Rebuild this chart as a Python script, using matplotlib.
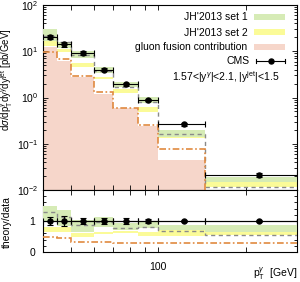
import numpy as np
import matplotlib
matplotlib.use("Agg")
import matplotlib.pyplot as plt
from matplotlib.patches import Patch
from matplotlib.lines import Line2D
from matplotlib.ticker import FixedLocator, NullFormatter, LogLocator, MultipleLocator

plt.rcParams['font.family'] = ['Liberation Sans', 'DejaVu Sans']
plt.rcParams['mathtext.fontset'] = 'custom'
plt.rcParams['mathtext.rm'] = 'Liberation Sans'
plt.rcParams['mathtext.it'] = 'Liberation Sans:italic'
plt.rcParams['mathtext.bf'] = 'Liberation Sans:bold'

# ---- data ----
edges = [40, 45, 50, 60, 70, 85, 100, 145, 300]
cms = [20.6, 14.1, 9.3, 4.0, 1.93, 0.88, 0.267, 0.0214]
cms_err = [2.0, 1.5, 0.8, 0.35, 0.15, 0.06, 0.02, 0.002]

set1_lo = [16.9, 11.6, 7.0, 3.34, 1.71, 0.76, 0.142, 0.0151]
set1_hi = [29.8, 16.1, 10.3, 4.63, 2.2, 1.04, 0.198, 0.0194]
set2_lo = [13.0, 9.8, 4.5, 2.48, 1.27, 0.474, 0.131, 0.0118]
set2_hi = [16.9, 11.0, 5.5, 2.82, 1.5, 0.61, 0.19, 0.0165]
dashed = [21.7, 16.0, 8.3, 3.7, 1.65, 0.80, 0.163, 0.0118]
gluon_line = [9.8, 6.7, 2.92, 1.29, 0.60, 0.254, 0.0769, 0.006]
gluon_fill = [12.6, 6.3, 2.8, 1.2, 0.58, 0.245, 0.0446, 0.004]

r_set1_lo = [0.98, 0.85, 0.66, 0.82, 0.71, 0.785, 0.71, 0.65]
r_set1_hi = [1.49, 1.355, 1.03, 1.14, 0.925, 1.0, 0.87, 0.87]
r_set2_lo = [0.656, 0.66, 0.495, 0.58, 0.60, 0.527, 0.53, 0.55]
r_set2_hi = [0.82, 0.82, 0.60, 0.656, 0.68, 0.656, 0.71, 0.70]
r_dashed = [1.30, 1.14, 0.87, 0.98, 0.76, 0.82, 0.69, 0.55]
r_gluon = [0.495, 0.46, 0.31, 0.31, 0.30, 0.28, 0.28, 0.28]
r_data = [1, 1, 1, 1, 1, 1, 1, 1]
r_err = [0.13, 0.16, 0.10, 0.10, 0.10, 0.06, 0.04, 0.03]

legend_labels = ["JH'2013 set 1", "JH'2013 set 2", 'gluon fusion contribution', 'CMS']

c_green = '#d6ebb6'
c_yellow = '#fbfb98'
c_pink = '#f6d6ca'
c_orange = '#e08a40'
c_grey = '#8a8a8a'

W, H = 300, 282
fig = plt.figure(figsize=(W/100, H/100), dpi=100)
x0, x1 = 42.5, 297
ytop = 5
def fy(p):
    return 1 - p/H
ax = fig.add_axes([x0/W, fy(190), (x1-x0)/W, (190-ytop)/H])
axr = fig.add_axes([x0/W, fy(252), (x1-x0)/W, (252-190)/H])

def axx(px):
    return (px - x0)/(x1 - x0)
def axy(py):
    return (190 - py)/(190 - ytop)

edges_a = np.array(edges, float)
centers = 0.5*(edges_a[:-1]+edges_a[1:])
xerr = [centers-edges_a[:-1], edges_a[1:]-centers]

dash_style = (0, (3, 2.5))
dashdot_style = (0, (4, 1.5, 1, 1.5))

# main panel
ax.stairs(gluon_fill, edges, baseline=1e-5, fill=True, color=c_pink, lw=0, zorder=1)
ax.stairs(set2_hi, edges, baseline=set2_lo, fill=True, color=c_yellow, lw=0, zorder=2)
ax.stairs(set1_hi, edges, baseline=set1_lo, fill=True, color=c_green, lw=0, zorder=3)
ax.stairs(dashed, edges, baseline=None, color=c_grey, lw=1.0, ls=dash_style, zorder=4)
ax.stairs(gluon_line, edges, baseline=None, color=c_orange, lw=1.2, ls=dashdot_style, zorder=4)
ax.errorbar(centers, cms, xerr=xerr, yerr=cms_err, fmt='o', color='black',
            ms=3.6, lw=0.8, capsize=2, capthick=0.8, zorder=6)

ax.set_xscale('log')
ax.set_yscale('log')
ax.set_xlim(40, 300)
ax.set_ylim(1e-2, 1e2)

# ratio panel
axr.stairs(r_set2_hi, edges, baseline=r_set2_lo, fill=True, color=c_yellow, lw=0, zorder=2)
axr.stairs(r_set1_hi, edges, baseline=r_set1_lo, fill=True, color=c_green, lw=0, zorder=3)
axr.stairs(r_dashed, edges, baseline=None, color=c_grey, lw=1.0, ls=dash_style, zorder=4)
axr.stairs(r_gluon, edges, baseline=None, color=c_orange, lw=1.2, ls=dashdot_style, zorder=4)
axr.axhline(1, color='black', lw=0.8, zorder=5)
axr.errorbar(centers, r_data, xerr=xerr, yerr=r_err, fmt='o', color='black',
             ms=3.6, lw=0.8, capsize=2, capthick=0.8, zorder=6)
axr.set_xscale('log')
axr.set_xlim(40, 300)
axr.set_ylim(0, 2)

for a in (ax, axr):
    for s in a.spines.values():
        s.set_linewidth(0.8)
    a.tick_params(which='both', direction='in', top=True, right=True, width=0.6, labelsize=7.5)
    a.tick_params(which='major', length=3.8)
    a.tick_params(which='minor', length=2.0)
    a.tick_params(axis='x', which='minor', length=3.8)
    a.xaxis.set_major_locator(FixedLocator([100]))
    a.xaxis.set_minor_locator(FixedLocator([40, 50, 60, 70, 80, 90, 200, 300]))
    a.xaxis.set_minor_formatter(NullFormatter())

ax.xaxis.set_major_formatter(NullFormatter())
ax.yaxis.set_major_locator(LogLocator(base=10, numticks=10))
ax.yaxis.set_minor_locator(LogLocator(base=10, subs=np.arange(2, 10), numticks=10))
ax.yaxis.set_minor_formatter(NullFormatter())
ax.tick_params(axis='y', pad=3)

axr.yaxis.set_major_locator(FixedLocator([0, 1, 2]))
axr.set_yticklabels(['0', '1', ''])
axr.yaxis.set_minor_locator(MultipleLocator(0.2))
axr.set_xticklabels(['100'])
axr.tick_params(axis='x', pad=7)
axr.tick_params(axis='y', pad=5)

# labels
fig.text(7/W, fy(80), r'd$\sigma$/dp$_{\rm T}^{\gamma}$dy$^{\gamma}$dy$^{\rm jet}$ [pb/GeV]',
         rotation=90, ha='center', va='center', fontsize=6.9)
fig.text(6.5/W, fy(222), 'theory/data', rotation=90, ha='center', va='center', fontsize=7.5)
fig.text(297/W, fy(274), r'p$_{\rm T}^{\gamma}$  [GeV]', ha='right', va='center', fontsize=7.5)

# legend (patch entries)
h1 = Patch(facecolor=c_green, edgecolor='none')
h2 = Patch(facecolor=c_yellow, edgecolor='none')
h3 = Patch(facecolor=c_pink, edgecolor='none')
leg = ax.legend([h1, h2, h3], legend_labels[:3],
                loc='upper right', bbox_to_anchor=(axx(285), axy(12.5)),
                frameon=False, markerfirst=False, fontsize=7.5, borderaxespad=0, borderpad=0,
                handlelength=3.0, handleheight=0.55, handletextpad=0.6, labelspacing=0.48)

# CMS legend row
yc = axy(61)
ax.text(axx(250), yc, legend_labels[3], transform=ax.transAxes, ha='right', va='center', fontsize=7.5)
ax.add_line(Line2D([axx(256), axx(285)], [yc, yc], transform=ax.transAxes, color='black', lw=0.8))
for xe in (256, 285):
    ax.add_line(Line2D([axx(xe), axx(xe)], [axy(63), axy(59)], transform=ax.transAxes,
                       color='black', lw=0.8))
ax.add_line(Line2D([axx(270.5)], [yc], transform=ax.transAxes, marker='o', ms=3.6,
                   color='black', ls='none'))

ax.text(axx(280), axy(77), r'1.57<|y$^{\gamma}$|<2.1, |y$^{\rm jet}$|<1.5',
        transform=ax.transAxes, ha='right', va='center', fontsize=7.5)

fig.savefig('out.png', dpi=100)
